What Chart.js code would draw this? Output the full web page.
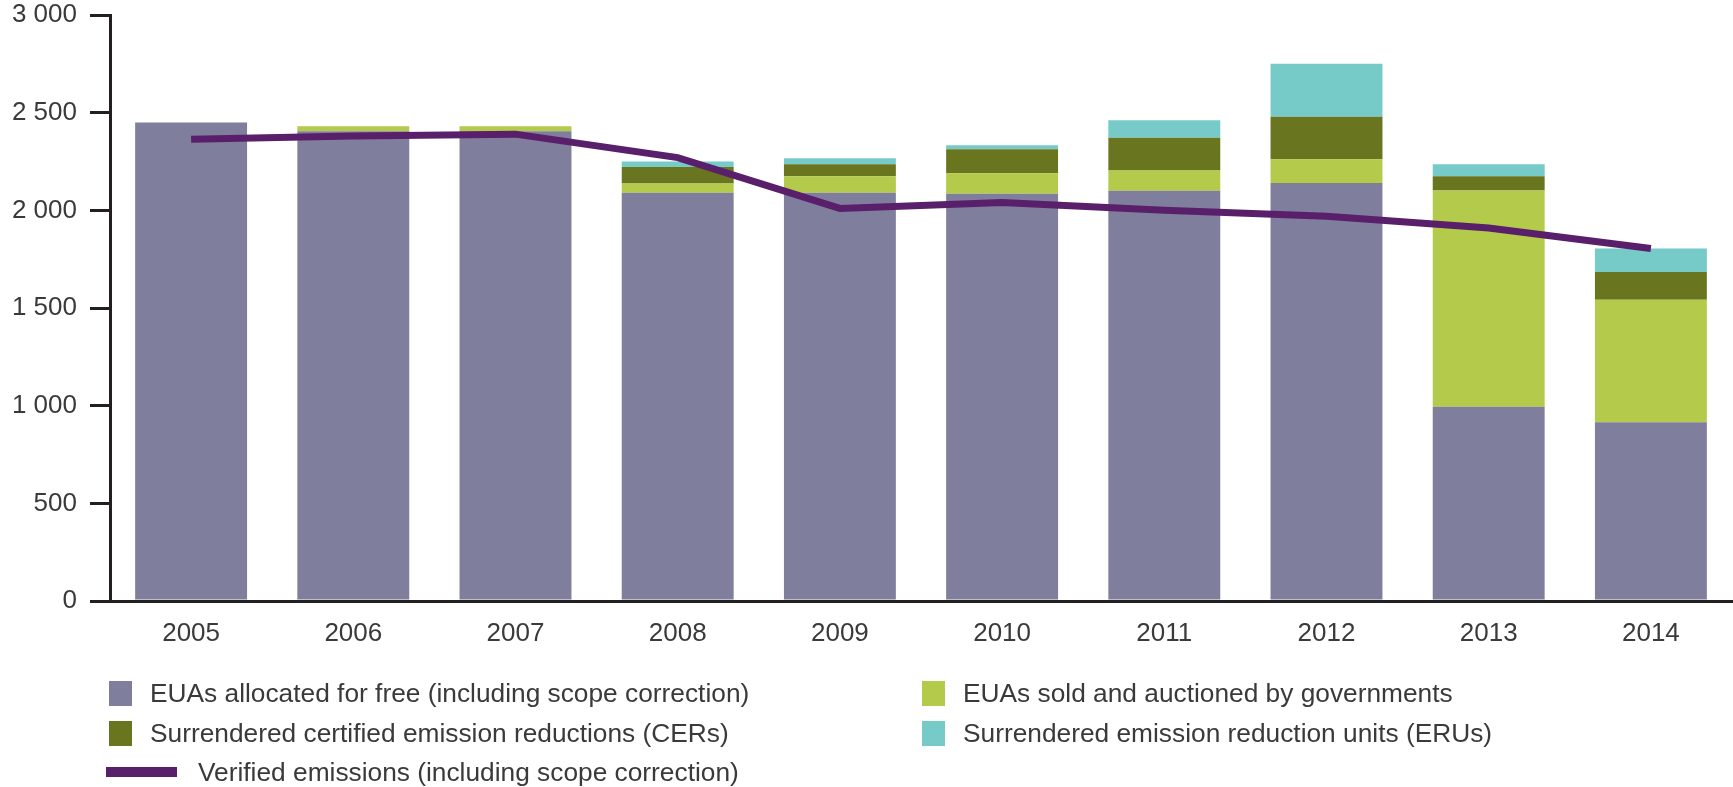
<!DOCTYPE html>
<html lang="en">
<head>
  <meta charset="UTF-8" />
  <title>EU ETS emissions and allowances</title>
  <script src="https://cdn.jsdelivr.net/npm/chart.js"></script>
  <style>
    body {
      margin: 0;
      background: #fff;
      font-family: 'Liberation Sans', Arial, sans-serif;
    }

    .wrap {
      position: relative;
      width: 1733px;
      height: 787px;
    }

    .legend-item {
      position: absolute;
      display: flex;
      align-items: center;
      font-size: 26.3px;
      color: #3a3a3a;
      white-space: nowrap;
      height: 26px;
    }

    .legend-item .box {
      display: inline-block;
      width: 23px;
      height: 25px;
      margin-right: 18px;
    }

    .legend-item .line {
      display: inline-block;
      width: 71px;
      height: 10px;
      margin-right: 21px;
    }
  </style>
</head>
<body>
  <div class="wrap">
    <canvas id="etsChart" width="1733" height="787"></canvas>
    <div id="legend"></div>
  </div>

  <script>
    // values (million tonnes)
    const years = ['2005', '2006', '2007', '2008', '2009', '2010', '2011', '2012', '2013', '2014'];
    const freeAllocation = [2450, 2405, 2405, 2090, 2090, 2085, 2100, 2140, 995, 915];
    const auctioned = [0, 25, 25, 48, 84, 105, 104, 122, 1106, 627];
    const cers = [0, 0, 0, 84, 62, 123, 168, 217, 73, 142];
    const erus = [0, 0, 0, 28, 31, 20, 89, 272, 62, 121];
    const verified = [2364, 2381, 2390, 2270, 2010, 2040, 2000, 1970, 1910, 1805];

    const yTickValues = [0, 500, 1000, 1500, 2000, 2500, 3000];
    const yTickLabels = ['0', '500', '1 000', '1 500', '2 000', '2 500', '3 000'];

    const seriesNames = [
      'EUAs allocated for free (including scope correction)',
      'EUAs sold and auctioned by governments',
      'Surrendered certified emission reductions (CERs)',
      'Surrendered emission reduction units (ERUs)',
      'Verified emissions (including scope correction)'
    ];
    const seriesColors = ['#7f7e9c', '#b4ca4a', '#6a7520', '#76cac8', '#5a1f6a'];

    const axisColor = '#231f20';
    const textColor = '#3a3a3a';
    const font = "'Liberation Sans', Arial, sans-serif";

    const barOpts = { barPercentage: 0.69, categoryPercentage: 1, order: 1, borderWidth: 0 };

    const ctx = document.getElementById('etsChart').getContext('2d');
    const chart = new Chart(ctx, {
      type: 'bar',
      data: {
        labels: years,
        datasets: [
          { label: seriesNames[0], data: freeAllocation, backgroundColor: seriesColors[0], ...barOpts },
          { label: seriesNames[1], data: auctioned, backgroundColor: seriesColors[1], ...barOpts },
          { label: seriesNames[2], data: cers, backgroundColor: seriesColors[2], ...barOpts },
          { label: seriesNames[3], data: erus, backgroundColor: seriesColors[3], ...barOpts },
          {
            type: 'line',
            label: seriesNames[4],
            data: verified,
            borderColor: seriesColors[4],
            backgroundColor: seriesColors[4],
            borderWidth: 7,
            pointRadius: 0,
            tension: 0,
            order: 0
          }
        ]
      },
      options: {
        responsive: false,
        devicePixelRatio: 1,
        animation: false,
        layout: { padding: { top: 15, right: 1, left: 0, bottom: 0 } },
        plugins: {
          legend: { display: false },
          tooltip: { enabled: false }
        },
        scales: {
          x: {
            stacked: true,
            grid: { display: false, drawTicks: false },
            border: { display: true, color: axisColor, width: 3 },
            ticks: {
              color: textColor,
              padding: 17,
              font: { family: font, size: 26 }
            },
            afterFit: scale => { scale.height = 186; }
          },
          y: {
            stacked: true,
            min: 0,
            max: 3000,
            afterBuildTicks: scale => {
              scale.ticks = yTickValues.map(v => ({ value: v }));
            },
            grid: {
              drawOnChartArea: false,
              drawTicks: true,
              tickLength: 20,
              lineWidth: 3,
              color: axisColor
            },
            border: { display: true, color: axisColor, width: 3 },
            ticks: {
              color: textColor,
              padding: 13,
              font: { family: font, size: 26 },
              callback: value => yTickLabels[yTickValues.indexOf(value)]
            },
            afterFit: scale => {
              scale.width = 110;
              scale.paddingTop = 0;
            }
          }
        }
      }
    });

    // legend laid out in two columns like the reference
    const legendSlots = [
      { left: 109, top: 680, kind: 'box' },
      { left: 922, top: 680, kind: 'box' },
      { left: 109, top: 720, kind: 'box' },
      { left: 922, top: 720, kind: 'box' },
      { left: 106, top: 759, kind: 'line' }
    ];
    const legend = document.getElementById('legend');
    legendSlots.forEach((slot, i) => {
      const item = document.createElement('div');
      item.className = 'legend-item';
      item.style.left = slot.left + 'px';
      item.style.top = slot.top + 'px';
      const swatch = document.createElement('span');
      swatch.className = slot.kind;
      swatch.style.background = seriesColors[i];
      item.appendChild(swatch);
      item.appendChild(document.createTextNode(seriesNames[i]));
      legend.appendChild(item);
    });
  </script>
</body>
</html>
